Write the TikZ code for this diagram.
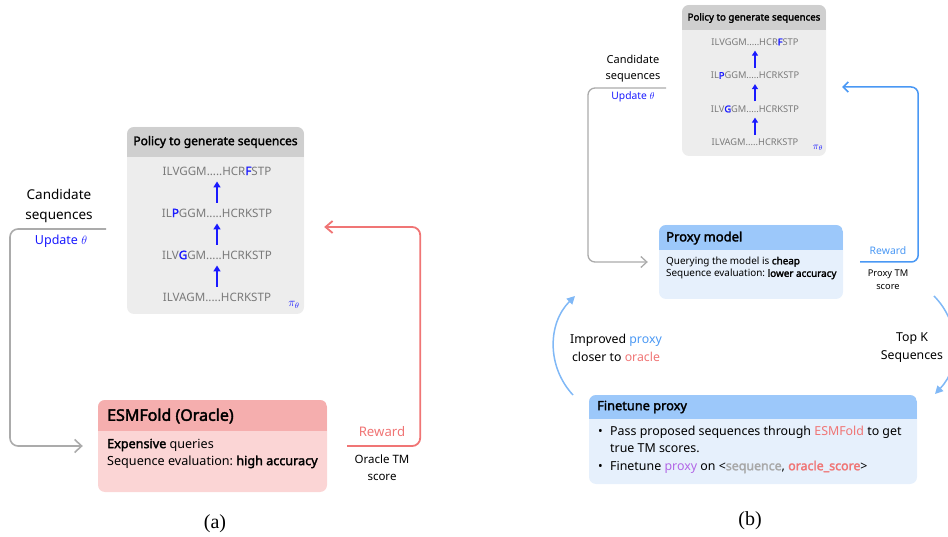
\documentclass[tikz,border=0pt]{standalone}
\usepackage{fontspec}
\setmainfont{Noto Sans}[BoldFont={Noto Sans}, BoldFeatures={FakeBold=2.2}]
\newfontfamily\capfont{Liberation Serif}
\usetikzlibrary{arrows.meta}
\frenchspacing
\definecolor{ghead}{HTML}{CFCFCF}
\definecolor{gbody}{HTML}{EDEDED}
\definecolor{rhead}{HTML}{F5AEAE}
\definecolor{rbody}{HTML}{FBD5D5}
\definecolor{bhead}{HTML}{9CC8FA}
\definecolor{bbody}{HTML}{E6F0FC}
\definecolor{lred}{HTML}{F07575}
\definecolor{lblue}{HTML}{4A98F4}
\definecolor{arcblue}{HTML}{80B8F6}
\definecolor{lgray}{HTML}{ABABAB}
\definecolor{seqgray}{HTML}{7A7A7A}
\definecolor{hblue}{HTML}{1A1AFF}
\definecolor{purp}{HTML}{B266E6}
\definecolor{sgray}{HTML}{A8A8A8}
\newcommand\hlt[1]{{\bfseries\color{hblue}#1}}
\tikzset{
  hdr/.store in=\cardhdr, hdr=25pt,
  card/.style 2 args={fill=#2, rounded corners=7pt, inner sep=0pt,
    path picture={\fill[#1, sharp corners] (path picture bounding box.north west) rectangle ([yshift=-\cardhdr]path picture bounding box.north east);}},
  txt/.style={inner sep=0pt, align=center},
  fnt/.style 2 args={font=\fontsize{#1}{#2}\selectfont},
  fntb/.style 2 args={font=\fontsize{#1}{#2}\selectfont\bfseries},
  seqarr/.style={draw=hblue, line width=1.6pt, -{Triangle[length=6pt,width=7pt]}},
  seqarrb/.style={draw=hblue, line width=1.3pt, -{Triangle[length=5pt,width=6pt]}},
  glinea/.style={draw=lgray, line width=1.6pt, rounded corners=8pt, -{Straight Barb[length=7pt,width=13pt]}},
  glineb/.style={draw=lgray, line width=1.3pt, rounded corners=7pt, -{Straight Barb[length=6pt,width=11pt]}},
  rline/.style={draw=lred, line width=1.8pt, rounded corners=8pt, -{Straight Barb[length=7pt,width=12pt]}},
  bline/.style={draw=lblue, line width=1.5pt, rounded corners=7pt, -{Straight Barb[length=5pt,width=10pt]}},
  arcl/.style={draw=arcblue, line width=1.5pt, -{Triangle[length=8pt,width=8pt]}},
}
\begin{document}
\begin{tikzpicture}[x=1pt,y=-1pt]
\useasboundingbox (0,0) rectangle (948,537);
% ---------------- (a) ----------------
\node[hdr=30pt, card={ghead}{gbody}, minimum width=177pt, minimum height=187pt] (pola) at (215.5,220.5) {};
\node[txt, fntb={12}{14}] (polah) at (215.5,142) {Policy to generate sequences};
\node[txt, fnt={11.6}{14}, text=seqgray] (sa1) at (217,171) {ILVGGM.....HCR\hlt{F}STP};
\node[txt, fnt={11.6}{14}, text=seqgray] (sa2) at (217,213) {IL\hlt{P}GGM.....HCRKSTP};
\node[txt, fnt={11.6}{14}, text=seqgray] (sa3) at (217,255) {ILV\hlt{G}GM.....HCRKSTP};
\node[txt, fnt={11.6}{14}, text=seqgray] (sa4) at (217,297) {ILVAGM.....HCRKSTP};
\draw[seqarr, shorten <=6pt, shorten >=6pt] (sa2.north) -- (sa1.south);
\draw[seqarr, shorten <=6pt, shorten >=6pt] (sa3.north) -- (sa2.south);
\draw[seqarr, shorten <=6pt, shorten >=6pt] (sa4.north) -- (sa3.south);
\node[txt, fnt={12}{14}, text=hblue] (pia) at (294,305) {$\pi_\theta$};

\node[txt, fnt={13.5}{20}] (canda) at (59,206) {Candidate\\sequences};
\node[txt, fnt={12.5}{14}, text=hblue] (upda) at (61,241) {Update $\theta$};
\coordinate (ga) at (106,229);

\node[hdr=31pt, card={rhead}{rbody}, minimum width=229pt, minimum height=92pt] (eso) at (212.5,446) {};
\node[txt, fntb={16}{18}, anchor=west] (esoh) at (107,416) {ESMFold (Oracle)};
\node[txt, fnt={12.6}{17}, anchor=west, align=left] (esob) at (107,453.5) {\textbf{Expensive} queries\\Sequence evaluation: \textbf{high accuracy}};

\draw[glinea] (ga) -- ++(-96,0) |- ([xshift=-15pt]eso.west);
\draw[rline] ([xshift=20pt]eso.east) -- ++(73,0) |- ([xshift=20pt,yshift=-6.5pt]pola.east);
\node[txt, fnt={13.2}{15}, text=lred] (rewa) at (382,432) {Reward};
\node[txt, fnt={11.5}{17}] (otm) at (382,467.5) {Oracle TM\\score};
\node[txt, font=\capfont\fontsize{20}{24}\selectfont] (capa) at (215,524) {(a)};

% ---------------- (b) ----------------
\node[hdr=25pt, card={ghead}{gbody}, minimum width=144pt, minimum height=151pt] (polb) at (754,80.5) {};
\node[txt, fntb={9.7}{12}] (polbh) at (754,18) {Policy to generate sequences};
\node[txt, fnt={9.3}{12}, text=seqgray] (sb1) at (755,42) {ILVGGM.....HCR\hlt{F}STP};
\node[txt, fnt={9.3}{12}, text=seqgray] (sb2) at (755,75.5) {IL\hlt{P}GGM.....HCRKSTP};
\node[txt, fnt={9.3}{12}, text=seqgray] (sb3) at (755,109) {ILV\hlt{G}GM.....HCRKSTP};
\node[txt, fnt={9.3}{12}, text=seqgray] (sb4) at (755,142.5) {ILVAGM.....HCRKSTP};
\draw[seqarrb, shorten <=4pt, shorten >=5pt] (sb2.north) -- (sb1.south);
\draw[seqarrb, shorten <=4pt, shorten >=5pt] (sb3.north) -- (sb2.south);
\draw[seqarrb, shorten <=4pt, shorten >=5pt] (sb4.north) -- (sb3.south);
\node[txt, fnt={10}{12}, text=hblue] (pib) at (818,148) {$\pi_\theta$};

\node[txt, fnt={11}{16}] (candb) at (633,69) {Candidate\\sequences};
\node[txt, fnt={10.3}{12}, text=hblue] (updb) at (633,97) {Update $\theta$};
\coordinate (gb) at (666,88);

\node[hdr=25pt, card={bhead}{bbody}, minimum width=184pt, minimum height=74pt] (prox) at (751,262) {};
\node[txt, fntb={13}{15}, anchor=west] (proxh) at (666,238) {Proxy model};
\node[txt, fnt={9.9}{12.5}, anchor=west, align=left] (proxb) at (666,268) {Querying the model is \textbf{cheap}\\Sequence evaluation: \textbf{lower accuracy}};

\draw[glineb] (gb) -- ++(-78,0) |- ([xshift=-11pt]prox.west);
\draw[bline] ([xshift=17pt]prox.east) -- ++(58,0) |- ([xshift=16pt,yshift=-6.5pt]polb.east);
\node[txt, fnt={10.4}{12}, text=lblue] (rewb) at (888,251) {Reward};
\node[txt, fnt={9.3}{13}] (ptm) at (888,279.5) {Proxy TM\\score};

\node[hdr=24pt, card={bhead}{bbody}, minimum width=328pt, minimum height=89pt] (fine) at (753,439.5) {};
\node[txt, fntb={12.8}{15}, anchor=west] (fineh) at (597,407) {Finetune proxy};
\node[txt, fnt={12.4}{17.5}, anchor=west, align=left] (fineb) at (598,449.5) {\makebox[12pt][l]{\textbullet}Pass proposed sequences through {\color{lred}ESMFold} to get\\\hspace*{12pt}true TM scores.\\\makebox[12pt][l]{\textbullet}Finetune {\color{purp}proxy} on <\textbf{\color{sgray}sequence}, \textbf{\color{lred}oracle\_score}>};

\coordinate (la0) at (573,395);
\coordinate (la1) at (575,296);
\coordinate (ra0) at (934,296);
\coordinate (ra1) at (935,394);
\draw[arcl] (la0) to[bend left=44] (la1);
\draw[arcl] (ra0) to[bend left=44] (ra1);
\node[txt, fnt={12.3}{18}] (impr) at (616,348) {Improved {\color{lblue}proxy}\\closer to {\color{lred}oracle}};
\node[txt, fnt={12.3}{18}] (topk) at (912,348) {Top K\\Sequences};
\node[txt, font=\capfont\fontsize{20}{24}\selectfont] (capb) at (750,521) {(b)};
\end{tikzpicture}
\end{document}
